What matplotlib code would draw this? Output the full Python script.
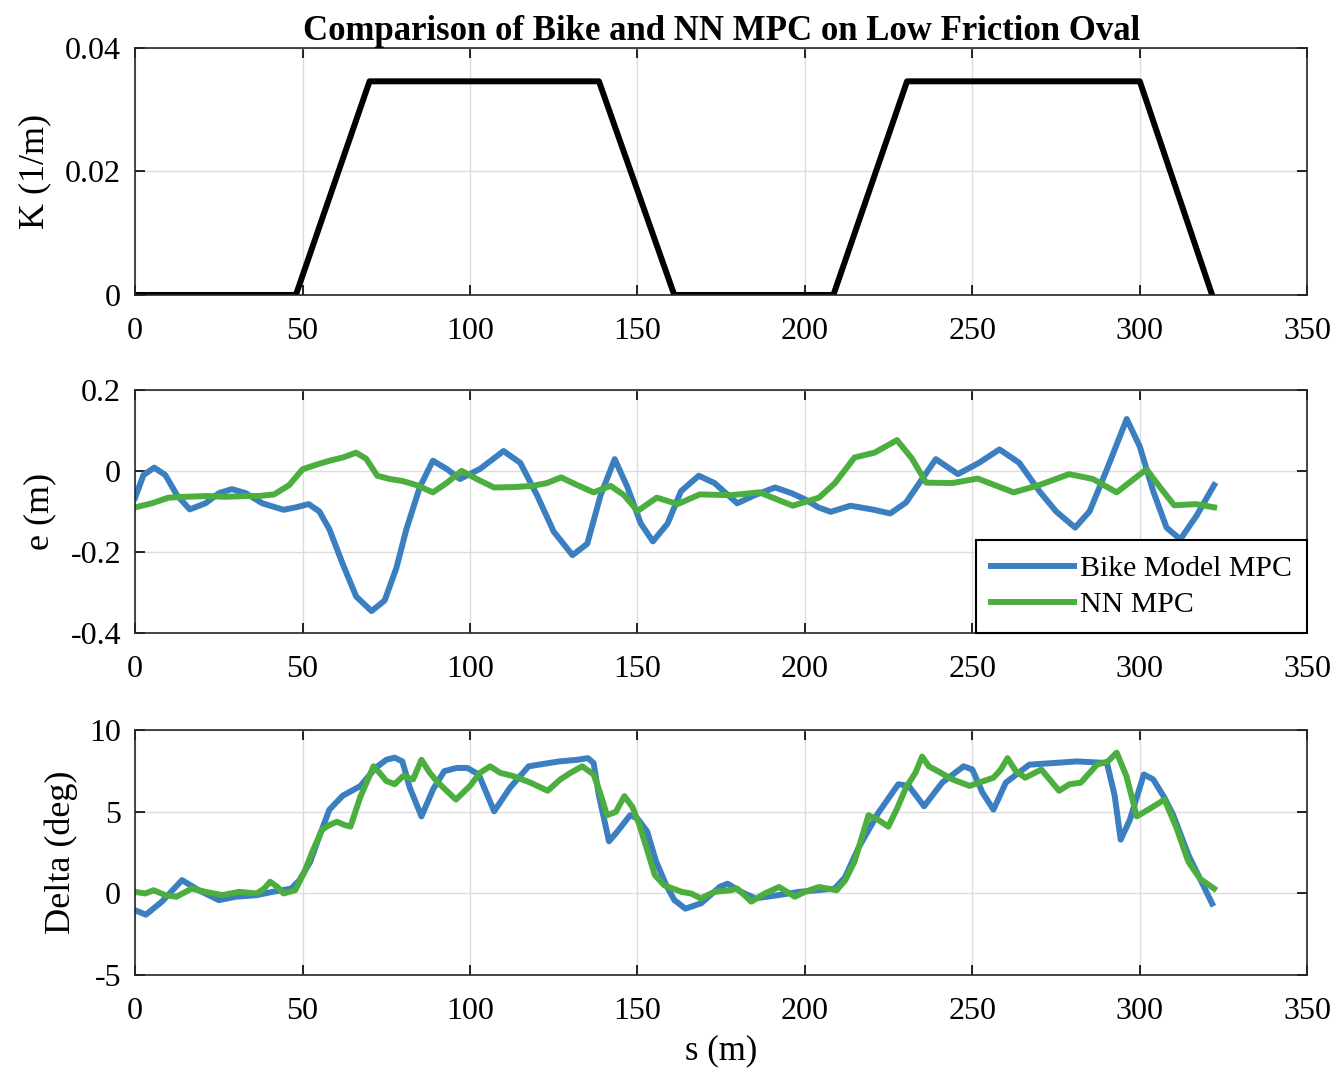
import matplotlib.pyplot as plt

plt.rcParams["font.family"] = ["Liberation Serif", "DejaVu Serif"]

# curvature profile of the oval
k_s = [0, 48, 70, 138.5, 161, 208.5, 230.5, 300, 321.6]
k_val = [0, 0, 0.0346, 0.0346, 0, 0, 0.0346, 0.0346, 0]

# lateral error, bike model MPC
e_bike_s = [0, 2.5, 5.7, 9, 12.5, 16.3, 21, 25, 28.9, 33, 38, 44.3, 48, 51.8,
            55, 58, 62, 66, 70.6, 74.5, 78, 81, 85, 88.9, 93, 97, 103, 110,
            115, 120, 125, 130.6, 135, 139, 143.2, 147, 151, 154.6, 159, 163,
            168.3, 173, 179.8, 185, 191.1, 196, 200, 204, 207.7, 213.6, 220,
            225.5, 230.2, 235, 239.1, 245.7, 252, 258.1, 264, 270, 275,
            280.7, 285, 290, 296.1, 300, 304, 308, 312.1, 317, 322.2]
e_bike = [-0.066, -0.01, 0.008, -0.01, -0.06, -0.095, -0.08, -0.055, -0.045,
          -0.055, -0.08, -0.096, -0.09, -0.082, -0.1, -0.144, -0.23, -0.31,
          -0.346, -0.32, -0.24, -0.144, -0.04, 0.025, 0.005, -0.02, 0.005,
          0.049, 0.02, -0.06, -0.15, -0.208, -0.18, -0.06, 0.029, -0.04,
          -0.13, -0.174, -0.13, -0.05, -0.012, -0.03, -0.08, -0.06, -0.041,
          -0.055, -0.07, -0.09, -0.101, -0.086, -0.095, -0.105, -0.078,
          -0.02, 0.029, -0.008, 0.02, 0.053, 0.02, -0.05, -0.1, -0.14, -0.1,
          0.0, 0.128, 0.06, -0.05, -0.14, -0.169, -0.11, -0.035]

# lateral error, NN MPC
e_nn_s = [0, 5, 10, 15, 21.5, 27, 32.9, 37, 41.5, 46, 50, 54, 58, 62, 66, 69,
          72.3, 76, 79.8, 84, 88.9, 93, 97.5, 102, 107.2, 113, 118.6, 123,
          127.2, 132, 136.9, 142, 146, 150, 155.8, 162, 168.6, 177.8, 186.4,
          196.4, 204.2, 209, 214.8, 220.8, 227.5, 232, 236.2, 244, 251.6,
          262.3, 270, 278.9, 286, 293.1, 302, 306, 310.3, 316.8, 322.2]
e_nn = [-0.09, -0.08, -0.066, -0.064, -0.062, -0.064, -0.062, -0.062, -0.058,
        -0.035, 0.004, 0.015, 0.025, 0.033, 0.045, 0.03, -0.012, -0.02,
        -0.025, -0.035, -0.053, -0.03, 0.0, -0.02, -0.041, -0.04, -0.037,
        -0.03, -0.016, -0.035, -0.053, -0.037, -0.06, -0.099, -0.066,
        -0.082, -0.058, -0.06, -0.053, -0.086, -0.066, -0.03, 0.033, 0.045,
        0.076, 0.03, -0.029, -0.03, -0.019, -0.053, -0.035, -0.008, -0.02,
        -0.053, 0.004, -0.04, -0.085, -0.082, -0.09]

# steering angle, bike model MPC
d_bike_s = [0, 3.2, 8, 14, 19, 25, 30, 36.3, 41, 46.6, 49, 52.3, 55, 58, 62,
            67.2, 71.8, 75, 77.5, 79.8, 82, 85.5, 89, 92.3, 96, 99.2, 102.6,
            107.2, 112, 117.5, 126.6, 132, 135.2, 136.9, 138.5, 141.5, 144,
            147.8, 150, 152.9, 155.5, 158.6, 161, 164.3, 169, 174.6, 176.9,
            181, 185.2, 192, 198.2, 208.9, 212, 216, 221.9, 227.9, 231,
            235.6, 241, 247.4, 250, 253, 256.3, 260, 267, 281.3, 290.2,
            292.5, 294.3, 297, 301.2, 304, 307.4, 310, 314.5, 318, 321.6]
d_bike = [-1.03, -1.3, -0.5, 0.82, 0.2, -0.41, -0.2, -0.1, 0.1, 0.3, 0.8,
          1.95, 3.5, 5.14, 6.0, 6.58, 7.7, 8.2, 8.33, 8.1, 6.5, 4.73, 6.4,
          7.5, 7.7, 7.7, 7.3, 5.04, 6.5, 7.8, 8.1, 8.2, 8.3, 8.0, 6.0, 3.2,
          3.8, 4.8, 4.6, 3.8, 2.0, 0.5, -0.4, -0.93, -0.6, 0.41, 0.6, 0.1,
          -0.3, -0.1, 0.1, 0.3, 1.0, 2.8, 4.94, 6.7, 6.6, 5.35, 6.8, 7.8,
          7.6, 6.2, 5.14, 6.8, 7.9, 8.1, 8.0, 6.0, 3.3, 4.5, 7.3, 7.0, 5.86,
          4.8, 2.37, 0.9, -0.62]

# steering angle, NN MPC
d_nn_s = [0, 3, 5.5, 9, 12.3, 16.9, 21, 26, 31, 36.3, 38.5, 40.3, 42.5, 44.3,
          47.8, 50.5, 53, 55.8, 58, 60.3, 62.5, 64.3, 67.2, 71.2, 73, 75,
          77.5, 80, 83, 85.5, 88, 90, 93, 95.8, 100, 103, 106, 109, 112.9,
          118, 123.2, 127, 130, 133.5, 136.9, 138.8, 140.9, 143.5, 146.1,
          148.5, 150.6, 153, 155.2, 158, 163.2, 166, 168.9, 173, 177.8,
          179.8, 184, 188, 192.3, 197, 200, 204.2, 209.5, 212, 214.8, 219,
          222, 224.9, 227.5, 230.2, 233, 235, 237, 239.7, 244, 249.2, 252,
          256.3, 258.5, 260.5, 263, 265.8, 270.6, 275.9, 279, 282.4, 287.2,
          290.5, 293.1, 296, 299.1, 303, 307.4, 311, 314.5, 318, 322.2]
d_nn = [0.1, 0.0, 0.2, -0.1, -0.2, 0.3, 0.1, -0.1, 0.1, 0.0, 0.3, 0.72, 0.4,
        0.0, 0.2, 1.3, 2.6, 3.9, 4.2, 4.4, 4.2, 4.1, 5.9, 7.8, 7.4, 6.9, 6.7,
        7.2, 7.0, 8.2, 7.4, 6.9, 6.3, 5.76, 6.6, 7.4, 7.8, 7.4, 7.2, 6.8,
        6.3, 7.0, 7.4, 7.8, 7.3, 6.2, 4.8, 5.0, 5.97, 5.3, 4.2, 2.6, 1.13,
        0.5, 0.1, 0.0, -0.3, 0.1, 0.2, 0.3, -0.5, 0.0, 0.4, -0.2, 0.1, 0.4,
        0.2, 0.8, 1.95, 4.8, 4.5, 4.1, 5.2, 6.5, 7.4, 8.4, 7.8, 7.5, 7.0,
        6.6, 6.8, 7.1, 7.6, 8.3, 7.5, 7.1, 7.6, 6.3, 6.7, 6.8, 7.9, 8.1,
        8.64, 7.2, 4.73, 5.2, 5.76, 4.0, 1.95, 0.9, 0.3]

BLUE = "#3b7fc1"
GREEN = "#4cae3f"
LW = 4.3

fig = plt.figure(figsize=(13.38, 10.71), dpi=100)
ax_k = fig.add_axes([0.101, 0.7246, 0.876, 0.2306])
ax_e = fig.add_axes([0.101, 0.409, 0.876, 0.227])
ax_d = fig.add_axes([0.101, 0.0896, 0.876, 0.2284])

ax_k.plot(k_s, k_val, color="black", lw=LW)
ax_e.plot(e_bike_s, e_bike, color=BLUE, lw=LW, label="Bike Model MPC")
ax_e.plot(e_nn_s, e_nn, color=GREEN, lw=LW, label="NN MPC")
ax_d.plot(d_bike_s, d_bike, color=BLUE, lw=LW)
ax_d.plot(d_nn_s, d_nn, color=GREEN, lw=LW)

ax_k.set_ylim(0, 0.04)
ax_k.set_yticks([0, 0.02, 0.04])
ax_k.set_yticklabels(["0", "0.02", "0.04"])
ax_e.set_ylim(-0.4, 0.2)
ax_e.set_yticks([-0.4, -0.2, 0, 0.2])
ax_e.set_yticklabels(["-0.4", "-0.2", "0", "0.2"])
ax_d.set_ylim(-5, 10)
ax_d.set_yticks([-5, 0, 5, 10])
ax_d.set_yticklabels(["-5", "0", "5", "10"])

for ax in (ax_k, ax_e, ax_d):
    ax.set_xlim(0, 350)
    ax.set_xticks(range(0, 351, 50))
    ax.grid(True, color="#dcdcdc", lw=1.0)
    ax.set_axisbelow(True)
    ax.tick_params(direction="in", top=True, right=True, labelsize=23,
                   length=7, width=1.2, pad=10)
    ax.tick_params(axis="x", pad=16)
    for sp in ax.spines.values():
        sp.set_linewidth(1.2)
        sp.set_color("#262626")

ax_k.set_ylabel("K (1/m)", fontsize=26, labelpad=10)
ax_e.set_ylabel("e (m)", fontsize=26, labelpad=10)
ax_d.set_ylabel("Delta (deg)", fontsize=26, labelpad=8)
ax_d.set_xlabel("s (m)", fontsize=25, labelpad=6)
ax_k.set_title("Comparison of Bike and NN MPC on Low Friction Oval",
               fontsize=25, fontweight="bold", pad=6)

leg = ax_e.legend(loc="lower right", fontsize=21.5, fancybox=False,
                  framealpha=1, edgecolor="black", borderaxespad=0,
                  handlelength=2.8, handletextpad=0.2, borderpad=0.5,
                  labelspacing=0.3)
leg.get_frame().set_linewidth(1.5)

fig.savefig("out.png", dpi=100)
